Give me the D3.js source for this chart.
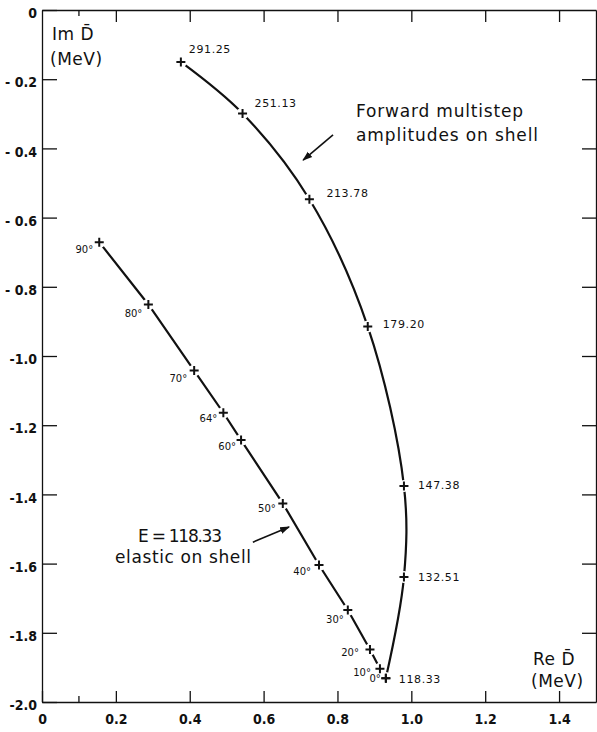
<!DOCTYPE html>
<html>
<head>
<meta charset="utf-8">
<script src="https://cdn.jsdelivr.net/npm/d3@7"></script>
<style>
  body { margin: 0; background: #fff; }
  svg { display: block; }
  .tick text { font-family: 'Liberation Sans Narrow', 'DejaVu Sans Condensed', sans-serif; font-weight: bold; font-size: 14px; fill: #111; }
  .lbl { font-family: 'DejaVu Sans', sans-serif; fill: #111; }
</style>
</head>
<body>
<div id="chart"></div>
<script>
// forward multistep amplitudes, labelled by energy (MeV)
var energyLabels = ["118.33", "132.51", "147.38", "179.20", "213.78", "251.13", "291.25"];
var reForward = [0.931, 0.980, 0.980, 0.882, 0.724, 0.543, 0.376];
var imForward = [-1.931, -1.639, -1.376, -0.915, -0.547, -0.299, -0.150];

// elastic on shell amplitudes at E = 118.33, labelled by angle
var angleLabels = ["0", "10", "20", "30", "40", "50", "60", "64", "70", "80", "90"];
var reElastic = [0.931, 0.915, 0.888, 0.828, 0.750, 0.652, 0.539, 0.491, 0.412, 0.288, 0.155];
var imElastic = [-1.931, -1.904, -1.848, -1.734, -1.604, -1.426, -1.243, -1.164, -1.042, -0.851, -0.671];

var xTicks = [0, 0.2, 0.4, 0.6, 0.8, 1.0, 1.2, 1.4];
var xTickLabels = ["0", "0.2", "0.4", "0.6", "0.8", "1.0", "1.2", "1.4"];
var yTicks = [0, -0.2, -0.4, -0.6, -0.8, -1.0, -1.2, -1.4, -1.6, -1.8, -2.0];
var yTickLabels = ["0", "- 0.2", "- 0.4", "- 0.6", "- 0.8", "-1.0", "-1.2", "-1.4", "-1.6", "-1.8", "-2.0"];

// label nudges (layout only, in px from the cross)
var fwdNudge = [[13, 5], [14, 4], [14, 3], [15, 1], [17, -2], [12, -6], [8, -9]];
var angNudge = [[-5, 4], [-9, 7], [-11, 7], [-4, 13], [-8, 10], [-7, 9], [-5, 10], [-6, 9], [-7, 11], [-6, 13], [-6, 11]];

var width = 597;
var height = 732;

var x = d3.scaleLinear().domain([0, 1.5]).range([42, 596]);
var y = d3.scaleLinear().domain([-2, 0]).range([702, 10]);

var svg = d3.select("#chart").append("svg")
  .attr("width", width)
  .attr("height", height);

svg.append("defs").append("marker")
  .attr("id", "arrow")
  .attr("viewBox", "0 0 10 10")
  .attr("refX", 9).attr("refY", 5)
  .attr("markerWidth", 10).attr("markerHeight", 10)
  .attr("markerUnits", "userSpaceOnUse")
  .attr("orient", "auto")
  .append("path").attr("d", "M0,1.5L10,5L0,8.5Z").attr("fill", "#111");

//Axes (ticks pointing inward on all four sides)
svg.append("g")
  .attr("transform", "translate(0," + y(-2) + ")")
  .call(d3.axisBottom(x).tickValues(xTicks).tickSizeInner(-11).tickSizeOuter(0).tickPadding(12)
    .tickFormat(function(d, i) { return xTickLabels[i]; }));

svg.append("g")
  .attr("transform", "translate(0," + y(0) + ")")
  .call(d3.axisTop(x).tickValues(xTicks.slice(1)).tickSizeInner(-12).tickSizeOuter(0).tickFormat(""));

svg.append("g")
  .attr("transform", "translate(" + x(0) + ",0)")
  .call(d3.axisLeft(y).tickValues(yTicks).tickSizeInner(-15).tickSizeOuter(0).tickPadding(5)
    .tickFormat(function(d, i) { return yTickLabels[i]; }))
  .selectAll("text").attr("dy", "0.55em");

svg.append("g")
  .attr("transform", "translate(" + x(1.5) + ",0)")
  .call(d3.axisRight(y).tickValues(yTicks.slice(1, -1)).tickSizeInner(-14).tickSizeOuter(0).tickFormat(""));

// minor tick at 0.1
svg.append("line").attr("x1", x(0.1)).attr("x2", x(0.1)).attr("y1", y(-2)).attr("y2", y(-2) - 6);
svg.append("line").attr("x1", x(0.1)).attr("x2", x(0.1)).attr("y1", y(0)).attr("y2", y(0) + 6);

svg.selectAll(".domain, .tick line, line").attr("stroke", "#111").attr("stroke-width", 1.3);

var fwdData = reForward.map(function(v, i) { return [v, imForward[i]]; });
var elData = reElastic.map(function(v, i) { return [v, imElastic[i]]; });

//Curves
var lineSmooth = d3.line().x(function(d) { return x(d[0]); }).y(function(d) { return y(d[1]); })
  .curve(d3.curveCatmullRom.alpha(0.5));
var lineStraight = d3.line().x(function(d) { return x(d[0]); }).y(function(d) { return y(d[1]); });

svg.append("path").datum(fwdData).attr("d", lineSmooth)
  .attr("fill", "none").attr("stroke", "#111").attr("stroke-width", 2.2);
svg.append("path").datum(elData).attr("d", lineStraight)
  .attr("fill", "none").attr("stroke", "#111").attr("stroke-width", 2.2);

// small gaps around the crosses
var allPts = fwdData.concat(elData);
svg.selectAll(".gap").data(allPts).enter().append("circle")
  .attr("class", "gap")
  .attr("cx", function(d) { return x(d[0]); })
  .attr("cy", function(d) { return y(d[1]); })
  .attr("r", 6).attr("fill", "#fff");

svg.selectAll(".cross").data(allPts).enter().append("path")
  .attr("class", "cross")
  .attr("transform", function(d) { return "translate(" + x(d[0]) + "," + y(d[1]) + ")"; })
  .attr("d", "M-4.5,0H4.5M0,-4.5V4.5")
  .attr("stroke", "#111").attr("stroke-width", 2);

//Point labels
svg.selectAll(".elab").data(fwdData).enter().append("text")
  .attr("class", "lbl")
  .attr("x", function(d, i) { return x(d[0]) + fwdNudge[i][0]; })
  .attr("y", function(d, i) { return y(d[1]) + fwdNudge[i][1]; })
  .attr("font-size", 11)
  .attr("letter-spacing", 0.6)
  .text(function(d, i) { return energyLabels[i]; });

svg.selectAll(".alab").data(elData).enter().append("text")
  .attr("class", "lbl")
  .attr("x", function(d, i) { return x(d[0]) + angNudge[i][0]; })
  .attr("y", function(d, i) { return y(d[1]) + angNudge[i][1]; })
  .attr("text-anchor", "end")
  .attr("font-size", 10)
  .text(function(d, i) { return angleLabels[i] + "°"; });

//Axis titles
function title(px, py, txt) {
  svg.append("text").attr("class", "lbl").attr("x", px).attr("y", py)
    .attr("font-size", 17).attr("letter-spacing", 0.5).text(txt);
}
title(52, 40, "Im D\u0304");
title(50, 65, "(MeV)");
title(533, 665, "Re D\u0304");
title(531, 687, "(MeV)");

//Annotations
function note(px, py, len, txt) {
  svg.append("text").attr("class", "lbl").attr("x", px).attr("y", py)
    .attr("font-size", 17).attr("textLength", len).attr("lengthAdjust", "spacing").text(txt);
}
note(356, 117, 167, "Forward multistep");
note(356, 141, 182, "amplitudes on shell");
note(138, 542, 84, "E = 118.33");
note(115, 563, 136, "elastic on shell");

svg.append("line")
  .attr("x1", x(0.788)).attr("y1", y(-0.361)).attr("x2", x(0.707)).attr("y2", y(-0.434))
  .attr("stroke", "#111").attr("stroke-width", 1.6).attr("marker-end", "url(#arrow)");
svg.append("line")
  .attr("x1", x(0.571)).attr("y1", y(-1.538)).attr("x2", x(0.669)).attr("y2", y(-1.494))
  .attr("stroke", "#111").attr("stroke-width", 1.6).attr("marker-end", "url(#arrow)");
</script>
</body>
</html>
